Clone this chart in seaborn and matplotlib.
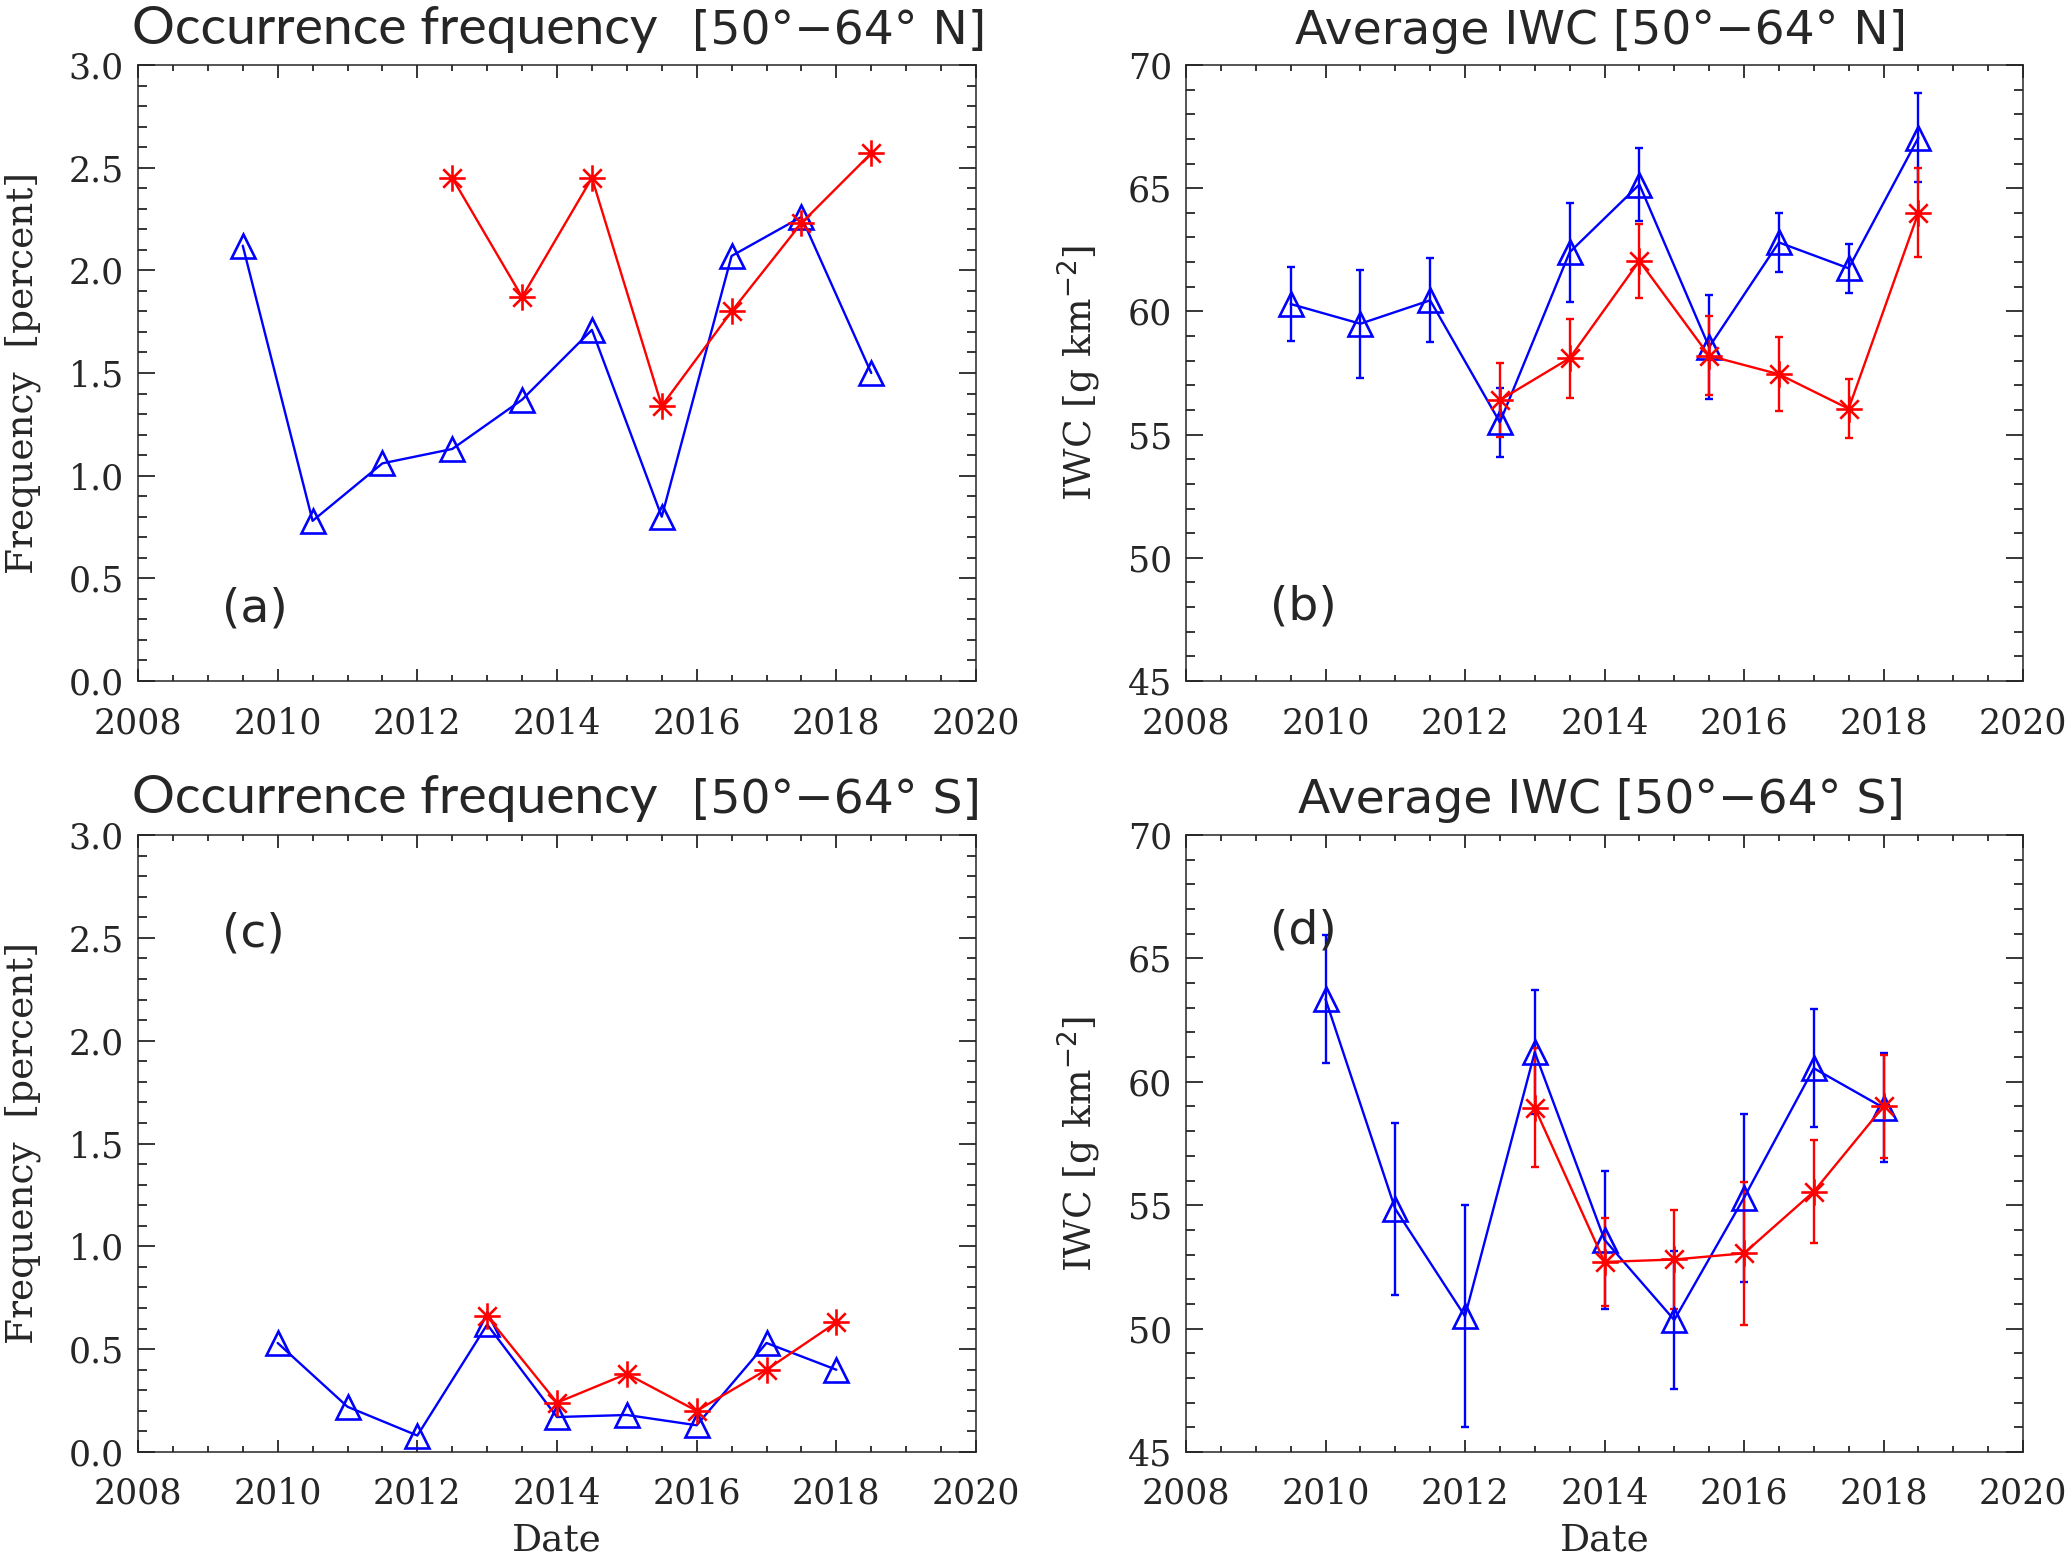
import matplotlib as mpl
mpl.use('Agg')
import matplotlib.pyplot as plt
import matplotlib.ticker as ticker
from matplotlib.path import Path
import numpy as np
import pandas as pd
import seaborn as sns

sns.set_style("ticks")

########## DATA ##########
# northern hemisphere, mid-year positions
years_n = [2009.5, 2010.5, 2011.5, 2012.5, 2013.5, 2014.5, 2015.5, 2016.5, 2017.5, 2018.5]
freq_n_blue = [2.12, 0.78, 1.06, 1.13, 1.37, 1.71, 0.80, 2.07, 2.26, 1.50]
years_n_red = [2012.5, 2013.5, 2014.5, 2015.5, 2016.5, 2017.5, 2018.5]
freq_n_red = [2.45, 1.87, 2.45, 1.34, 1.80, 2.23, 2.57]

iwc_n_blue = [60.3, 59.5, 60.45, 55.5, 62.4, 65.15, 58.55, 62.8, 61.75, 67.05]
iwc_n_blue_err = [1.5, 2.2, 1.7, 1.4, 2.0, 1.5, 2.1, 1.2, 1.0, 1.8]
iwc_n_red = [56.4, 58.1, 62.05, 58.2, 57.45, 56.05, 64.0]
iwc_n_red_err = [1.5, 1.6, 1.5, 1.6, 1.5, 1.2, 1.8]

# southern hemisphere
years_s = [2010, 2011, 2012, 2013, 2014, 2015, 2016, 2017, 2018]
freq_s_blue = [0.53, 0.22, 0.08, 0.62, 0.17, 0.18, 0.13, 0.53, 0.40]
years_s_red = [2013, 2014, 2015, 2016, 2017, 2018]
freq_s_red = [0.66, 0.24, 0.38, 0.20, 0.40, 0.63]

iwc_s_blue = [63.35, 54.85, 50.5, 61.2, 53.6, 50.35, 55.3, 60.55, 58.95]
iwc_s_blue_err = [2.6, 3.5, 4.5, 2.5, 2.8, 2.8, 3.4, 2.4, 2.2]
iwc_s_red = [58.95, 52.7, 52.8, 53.05, 55.55, 59.0]
iwc_s_red_err = [2.4, 1.8, 2.0, 2.9, 2.1, 2.1]

year_ticks = [2008, 2010, 2012, 2014, 2016, 2018, 2020]

# IDL-like asterisk marker
star = Path([(-1, 0), (1, 0), (0, -1), (0, 1), (-0.7, -0.7), (0.7, 0.7), (-0.7, 0.7), (0.7, -0.7)],
            [Path.MOVETO, Path.LINETO] * 4)

tick_font = dict(family='DejaVu Serif', size=25)
lab_font = dict(family='DejaVu Serif', size=27)

W, H = 2067, 1556
fig = plt.figure(figsize=(W / 100, H / 100), dpi=100)


def make_ax(x0, y0, x1, y1):
    return fig.add_axes([x0 / W, 1 - y1 / H, (x1 - x0) / W, (y1 - y0) / H])


def style(ax, ylim, ymajor, yminor, fmt):
    ax.set_xlim(2008, 2020)
    ax.set_ylim(*ylim)
    ax.xaxis.set_major_locator(ticker.FixedLocator(year_ticks))
    ax.xaxis.set_minor_locator(ticker.MultipleLocator(0.5))
    ax.yaxis.set_major_locator(ticker.MultipleLocator(ymajor))
    ax.yaxis.set_minor_locator(ticker.MultipleLocator(yminor))
    ax.yaxis.set_major_formatter(ticker.FormatStrFormatter(fmt))
    ax.tick_params(which='both', direction='in', top=True, right=True, width=1.1, color='k')
    ax.tick_params(axis='x', which='major', length=9, pad=18)
    ax.tick_params(axis='x', which='minor', length=4.5)
    ax.tick_params(axis='y', which='major', length=12, pad=10)
    ax.tick_params(axis='y', which='minor', length=6.5)
    for lab in ax.get_xticklabels() + ax.get_yticklabels():
        lab.set_fontfamily(tick_font['family'])
        lab.set_fontsize(tick_font['size'])
    for s in ax.spines.values():
        s.set_linewidth(1.1)
        s.set_visible(True)


def draw(ax, x, y, color, marker, ms, err=None):
    if err is not None:
        ax.errorbar(x, y, yerr=err, fmt='none', ecolor=color, elinewidth=1.7,
                    capsize=3, capthick=1.7, zorder=2)
    sns.lineplot(x=x, y=y, ax=ax, color=color, lw=1.7, marker=marker, markersize=ms,
                 markerfacecolor='none', markeredgecolor=color, markeredgewidth=1.9,
                 estimator=None, sort=False, zorder=3)


axa = make_ax(138, 65, 976, 681)
axb = make_ax(1186, 65, 2023, 681)
axc = make_ax(138, 835, 976, 1452)
axd = make_ax(1186, 835, 2023, 1452)

draw(axa, years_n, freq_n_blue, 'blue', '^', 17)
draw(axa, years_n_red, freq_n_red, 'red', star, 19)
draw(axb, years_n, iwc_n_blue, 'blue', '^', 17, iwc_n_blue_err)
draw(axb, years_n_red, iwc_n_red, 'red', star, 19, iwc_n_red_err)
draw(axc, years_s, freq_s_blue, 'blue', '^', 17)
draw(axc, years_s_red, freq_s_red, 'red', star, 19)
draw(axd, years_s, iwc_s_blue, 'blue', '^', 17, iwc_s_blue_err)
draw(axd, years_s_red, iwc_s_red, 'red', star, 19, iwc_s_red_err)

for ax in (axa, axc):
    style(ax, (0, 3.0), 0.5, 0.1, '%.1f')
    ax.set_ylabel('Frequency  [percent]', va='center', **lab_font)
    ax.yaxis.set_label_coords(-0.138, 0.5)
for ax in (axb, axd):
    style(ax, (45, 70), 5, 1, '%d')
    ax.set_ylabel(r'IWC [g km$^{-2}$]', va='center', **lab_font)
    ax.yaxis.set_label_coords(-0.127, 0.5)
for ax in (axa, axb):
    ax.set_xlabel('')
for ax in (axc, axd):
    ax.set_xlabel('Date', **lab_font)
    ax.xaxis.set_label_coords(0.5, -0.143)
    ax.xaxis.label.set_va('center')

# panel letters
axa.text(2009.2, 0.35, '(a)', fontsize=34, family='DejaVu Sans', va='center')
axb.text(2009.2, 48.0, '(b)', fontsize=34, family='DejaVu Sans', va='center')
axc.text(2009.2, 2.52, '(c)', fontsize=34, family='DejaVu Sans', va='center')
axd.text(2009.2, 66.1, '(d)', fontsize=34, family='DejaVu Sans', va='center')

# titles
fig.text(132 / W, 1 - 44 / H, 'Occurrence frequency', fontsize=38.5, family='Lato', va='baseline', ha='left')
fig.text(692 / W, 1 - 44 / H, '[50°\u221264° N]', fontsize=34, family='DejaVu Sans', va='baseline', ha='left')
fig.text(1601 / W, 1 - 44 / H, 'Average IWC [50°\u221264° N]', fontsize=34, family='DejaVu Sans', va='baseline', ha='center')
fig.text(132 / W, 1 - 813 / H, 'Occurrence frequency', fontsize=38.5, family='Lato', va='baseline', ha='left')
fig.text(692 / W, 1 - 813 / H, '[50°\u221264° S]', fontsize=34, family='DejaVu Sans', va='baseline', ha='left')
fig.text(1601 / W, 1 - 813 / H, 'Average IWC [50°\u221264° S]', fontsize=34, family='DejaVu Sans', va='baseline', ha='center')

fig.savefig('out.png', dpi=100)
